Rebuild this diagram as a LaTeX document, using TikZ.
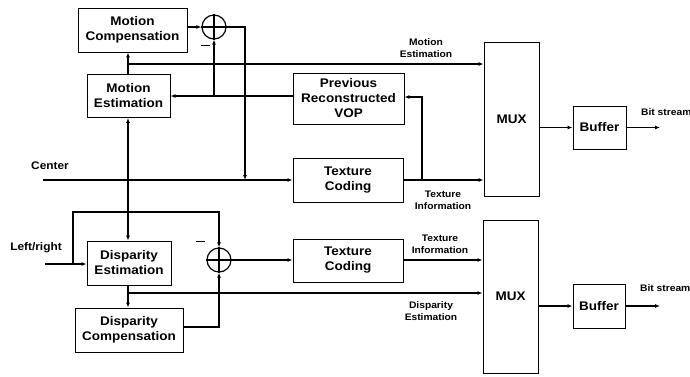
\documentclass[tikz,border=0pt]{standalone}
\usepackage{fontspec}
\setmainfont[FakeStretch=1.08]{Liberation Sans}
\usetikzlibrary{arrows.meta}
\begin{document}
\begin{tikzpicture}[x=1pt,y=-1pt,
  box/.style={draw,line width=0.9pt,align=center,font=\bfseries\fontsize{12.5}{15}\selectfont,inner sep=0pt},
  sum/.style={draw,circle,line width=1.2pt,minimum size=24pt,inner sep=0pt},
  lbl/.style={font=\bfseries\fontsize{9.5}{12}\selectfont,align=center,inner sep=0pt},
  arr/.style={line width=1.1pt,-{Latex[length=5pt,width=4pt]}},
  ln/.style={line width=1.1pt},
  dot/.style={circle,fill,inner sep=0pt,minimum size=3.5pt}]
\useasboundingbox (0,0) rectangle (690,376);
% top
\node[box,minimum width=109pt,minimum height=44pt] (mc) at (132.5,30) {Motion\\Compensation};
\node[box,minimum width=83pt,minimum height=43pt] (me) at (128.5,96) {Motion\\Estimation};
\node[box,minimum width=111pt,minimum height=51pt] (prv) at (348.5,98.5) {Previous\\Reconstructed\\VOP};
\node[box,minimum width=110pt,minimum height=44pt] (tc1) at (348,180) {Texture\\Coding};
\node[box,minimum width=55pt,minimum height=154pt] (mux1) at (511.5,119) {MUX};
\node[box,minimum width=53pt,minimum height=43pt] (buf1) at (599.5,127.5) {Buffer};
\node[sum] (s1) at (214,27) {};
\draw[line width=1.2pt] (s1.north) -- (s1.south) (s1.west) -- (s1.east);
\node[lbl] (m1) at (205,45) {\rule{9pt}{0.8pt}};
% bottom
\node[box,minimum width=84pt,minimum height=44pt] (de) at (129,263) {Disparity\\Estimation};
\node[box,minimum width=108pt,minimum height=44pt] (dc) at (129,330) {Disparity\\Compensation};
\node[box,minimum width=110pt,minimum height=43pt] (tc2) at (348,260.5) {Texture\\Coding};
\node[box,minimum width=55pt,minimum height=153pt] (mux2) at (510.5,296.5) {MUX};
\node[box,minimum width=52pt,minimum height=44pt] (buf2) at (599,306) {Buffer};
\node[sum] (s2) at (219,260) {};
\draw[line width=1.2pt] (s2.north) -- (s2.south) (s2.west) -- (s2.east);
\node[lbl] (m2) at (200,241) {\rule{9pt}{0.8pt}};
% labels
\node[lbl,font=\bfseries\fontsize{11}{13}\selectfont] (cen) at (50,166) {Center};
\node[lbl,font=\bfseries\fontsize{11}{13}\selectfont] (lr) at (36,248) {Left/right};
\node[lbl] (lme) at (426,48) {Motion\\Estimation};
\node[lbl] (lti1) at (443,200) {Texture\\Information};
\node[lbl] (lti2) at (440,244) {Texture\\Information};
\node[lbl] (lde) at (431,311) {Disparity\\Estimation};
\node[lbl,anchor=west] (bs1) at (641,112) {Bit stream};
\node[lbl,anchor=west] (bs2) at (640,288) {Bit stream};
% coordinates
\coordinate (cin) at (43,180);
\coordinate (lin) at (45,264);
\coordinate (j1) at (128,180);
\coordinate (j2) at (245,180);
\coordinate (j3) at (422,180);
\coordinate (j4) at (128,64);
\coordinate (j5) at (214,96);
\coordinate (o1) at (660,127.5);
\coordinate (o2) at (660,306);
\coordinate (j6) at (128,293);
\coordinate (j7) at (73,264);
% top connectors
\draw[arr] (mc.east |- s1.west) -- (s1.west);
\draw[arr] (s1.east) -| (j2);
\draw[arr] (j4) -- (mc.south -| j4);
\draw[ln] (me.north -| j4) -- (j4);
\draw[arr] (j4) -- (mux1.west |- j4);
\draw[arr] (prv.west |- j5) -- (me.east |- j5);
\draw[arr] (j5) -- (s1.south);
\draw[arr] (cin) -- (tc1.west |- cin);
\draw[arr] (j1) -- (me.south -| j1);
\draw[arr] (j1) -- (de.north -| j1);
\draw[arr] (tc1.east |- j3) -- (mux1.west |- j3);
\draw[arr] (j3) |- (prv.east |- 0,97);
\draw[arr] (mux1.east |- buf1.west) -- (buf1.west);
\draw[arr] (buf1.east) -- (o1);
\node[dot] at (j1) {};
% bottom connectors
\draw[arr] (lin) -- (de.west |- lin);
\draw[arr] (j7) |- (219,212) -- (s2.north);
\draw[arr] (de.south -| j6) -- (dc.north -| j6);
\draw[arr] (j6) -- (mux2.west |- j6);
\draw[arr] (dc.east |- 0,327) -| (s2.south);
\draw[arr] (s2.east) -- (tc2.west |- s2.east);
\draw[arr] (tc2.east |- s2.east) -- (mux2.west |- s2.east);
\draw[arr] (mux2.east |- buf2.west) -- (buf2.west);
\draw[arr] (buf2.east) -- (o2);
\end{tikzpicture}
\end{document}
